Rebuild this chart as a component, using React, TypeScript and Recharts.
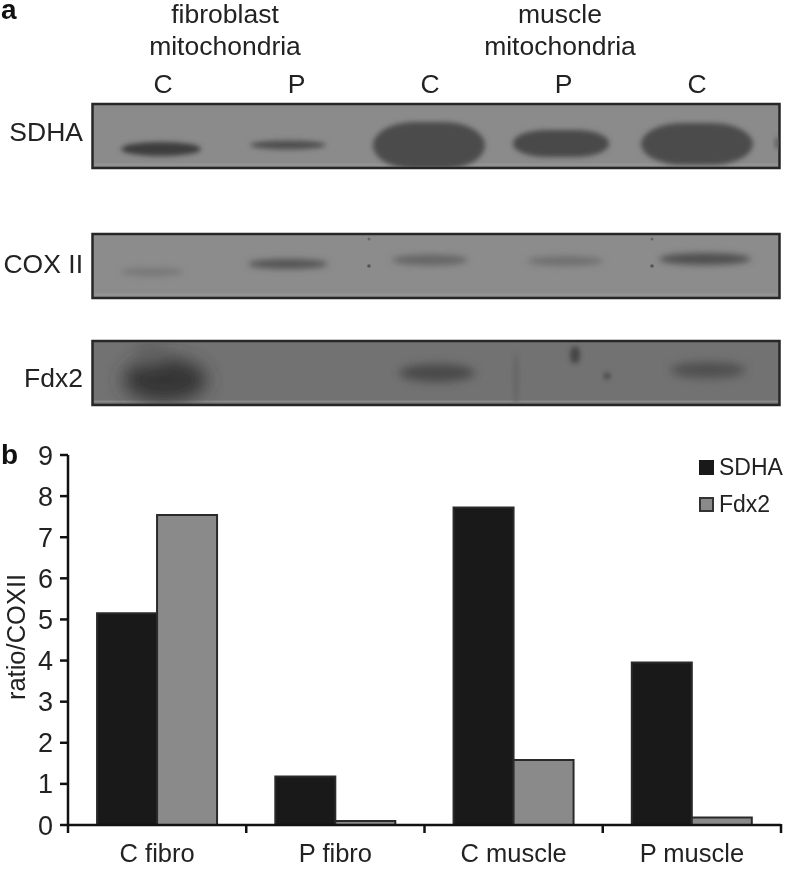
import React from "react";
import { BarChart, Bar, XAxis, YAxis, Legend } from "recharts";

const categories = ["C fibro", "P fibro", "C muscle", "P muscle"];
const sdha = [5.15, 1.18, 7.72, 3.95];
const fdx2 = [7.54, 0.1, 1.58, 0.18];
const yTicks = [0, 1, 2, 3, 4, 5, 6, 7, 8, 9];
const laneLabels = ["C", "P", "C", "P", "C"];
const rowLabels = ["SDHA", "COX II", "Fdx2"];

const data = categories.map((name, i) => ({ name, SDHA: sdha[i], Fdx2: fdx2[i] }));

const FONT = "'Liberation Sans', Arial, sans-serif";
const INK = "#222";
const W = 785;
const H = 869;
const PLOT_L = 68;
const PLOT_R = 781;
const CAT_W = (PLOT_R - PLOT_L) / categories.length;

const XTick = (props: any) => {
  const { x, y, payload, index } = props;
  const left = x - CAT_W / 2;
  const right = x + CAT_W / 2;
  return (
    <g>
      <line x1={left} x2={left} y1={y - 1} y2={y + 8} stroke="#111" strokeWidth={2.5} />
      {index === categories.length - 1 && (
        <line x1={right} x2={right} y1={y - 1} y2={y + 8} stroke="#111" strokeWidth={2.5} />
      )}
      <text x={x} y={y + 37} textAnchor="middle" fontFamily={FONT} fontSize={25.5} fill={INK}>
        {payload.value}
      </text>
    </g>
  );
};

const LegendBox = () => (
  <div style={{ fontFamily: FONT, fontSize: 23, color: INK, lineHeight: "37px" }}>
    <div style={{ display: "flex", alignItems: "center", height: 37 }}>
      <span style={{ display: "inline-block", width: 15, height: 15, background: "#191919", marginRight: 5 }} />
      SDHA
    </div>
    <div style={{ display: "flex", alignItems: "center", height: 37 }}>
      <span style={{ display: "inline-block", width: 11, height: 11, background: "#8a8a8a", border: "2px solid #333", marginRight: 5 }} />
      Fdx2
    </div>
  </div>
);

const Panel = ({ y, fill }: { y: number; fill: string }) => (
  <g>
    <rect x={92.5} y={y} width={687} height={64} fill={fill} stroke="#262626" strokeWidth={2.5} />
    <line x1={94} x2={778} y1={y + 60.5} y2={y + 60.5} stroke="#a0a0a0" strokeWidth={2} opacity={0.5} />
  </g>
);

const Blots = () => (
  <svg width={W} height={H} style={{ position: "absolute", left: 0, top: 0 }}>
    <defs>
      <filter id="b1" x="-50%" y="-100%" width="200%" height="300%"><feGaussianBlur stdDeviation="2.4" /></filter>
      <filter id="b2" x="-50%" y="-100%" width="200%" height="300%"><feGaussianBlur stdDeviation="3" /></filter>
      <filter id="b4" x="-50%" y="-100%" width="200%" height="300%"><feGaussianBlur stdDeviation="5" /></filter>
      <filter id="b8" x="-50%" y="-100%" width="200%" height="300%"><feGaussianBlur stdDeviation="9" /></filter>
      <clipPath id="clip1"><rect x={93} y={105} width={686} height={62} /></clipPath>
      <clipPath id="clip3"><rect x={93} y={342} width={686} height={62} /></clipPath>
    </defs>
    <Panel y={104} fill="#8b8b8b" />
    <Panel y={234} fill="#8c8c8c" />
    <Panel y={341} fill="#727272" />
    <g clipPath="url(#clip1)">
      <ellipse cx={161} cy={149} rx={40} ry={7} fill="#3c3c3c" filter="url(#b1)" />
      <ellipse cx={288} cy={145} rx={38} ry={4.5} fill="#505050" filter="url(#b1)" />
      <rect x={373} y={122} width={112} height={47} rx={42} ry={23} fill="#4c4c4c" filter="url(#b1)" />
      <rect x={513} y={130} width={96} height={27} rx={34} ry={13} fill="#484848" filter="url(#b1)" />
      <rect x={641} y={123} width={112} height={42} rx={42} ry={21} fill="#4b4b4b" filter="url(#b1)" />
      <ellipse cx={778} cy={143} rx={3} ry={6} fill="#5a5a5a" filter="url(#b1)" />
    </g>
    <g>
      <ellipse cx={152} cy={272} rx={32} ry={4} fill="#777" filter="url(#b2)" />
      <ellipse cx={288} cy={264} rx={40} ry={5} fill="#525252" filter="url(#b2)" />
      <ellipse cx={430} cy={260} rx={38} ry={5.5} fill="#666" filter="url(#b2)" />
      <ellipse cx={565} cy={261} rx={38} ry={5} fill="#707070" filter="url(#b2)" />
      <ellipse cx={705} cy={259} rx={46} ry={6} fill="#505050" filter="url(#b2)" />
      <circle cx={369} cy={239} r={1.5} fill="#666" />
      <circle cx={369} cy={266} r={1.8} fill="#555" />
      <circle cx={652} cy={239} r={1.5} fill="#666" />
      <circle cx={652} cy={266} r={1.8} fill="#555" />
    </g>
    <g clipPath="url(#clip3)">
      <ellipse cx={165} cy={380} rx={42} ry={22} fill="#353535" filter="url(#b8)" />
      <ellipse cx={150} cy={352} rx={14} ry={12} fill="#5e5e5e" filter="url(#b8)" />
      <ellipse cx={437} cy={373} rx={38} ry={9} fill="#484848" filter="url(#b4)" />
      <ellipse cx={708} cy={370} rx={38} ry={8} fill="#505050" filter="url(#b4)" />
      <ellipse cx={575} cy={355} rx={5} ry={9} fill="#444" filter="url(#b1)" />
      <circle cx={607} cy={376} r={3} fill="#3c3c3c" filter="url(#b1)" />
      <ellipse cx={516} cy={378} rx={3} ry={26} fill="#666" filter="url(#b1)" />
    </g>
    <g fontFamily={FONT} fill={INK} fontSize={26.5}>
      <text x={225} y={23} textAnchor="middle">fibroblast</text>
      <text x={225} y={55} textAnchor="middle">mitochondria</text>
      <text x={560} y={23} textAnchor="middle">muscle</text>
      <text x={560} y={55} textAnchor="middle">mitochondria</text>
      {laneLabels.map((label, i) => (
        <text key={i} x={163 + i * 133.5} y={93} textAnchor="middle">{label}</text>
      ))}
      <text x={83} y={141} textAnchor="end">{rowLabels[0]}</text>
      <text x={83} y={273} textAnchor="end">{rowLabels[1]}</text>
      <text x={83} y={387} textAnchor="end">{rowLabels[2]}</text>
    </g>
    <g fontFamily={FONT} fill="#111" fontSize={28} fontWeight="bold">
      <text x={1} y={19}>a</text>
      <text x={1} y={464}>b</text>
    </g>
  </svg>
);

export default function App() {
  return (
    <div style={{ position: "absolute", left: 0, top: 0, width: W, height: H, background: "#fff", filter: "blur(0.5px)", overflow: "hidden" }}>
      <Blots />
      <div style={{ position: "absolute", left: 0, top: 0 }}>
        <BarChart
          width={W}
          height={H}
          data={data}
          margin={{ top: 455, right: W - PLOT_R, bottom: 0, left: 0 }}
          barCategoryGap="16.3%"
          barGap={0}
        >
          <XAxis
            dataKey="name"
            height={44}
            interval={0}
            axisLine={{ stroke: "#111", strokeWidth: 2.5 }}
            tickLine={false}
            tickSize={0}
            tickMargin={0}
            tick={<XTick />}
          />
          <YAxis
            width={PLOT_L}
            domain={[0, 9]}
            ticks={yTicks}
            interval={0}
            axisLine={{ stroke: "#111", strokeWidth: 2.5 }}
            tickLine={{ stroke: "#111", strokeWidth: 2.5 }}
            tickSize={8}
            tickMargin={7}
            tick={{ fontFamily: FONT, fontSize: 27, fill: INK }}
            label={{
              value: "ratio/COXII",
              angle: -90,
              position: "insideLeft",
              offset: 16,
              dy: -3,
              style: { fontFamily: FONT, fontSize: 25.5, fill: INK, textAnchor: "middle" },
            }}
          />
          <Legend
            layout="vertical"
            align="center"
            verticalAlign="middle"
            content={<LegendBox />}
            wrapperStyle={{ position: "absolute", left: 699, top: 449, width: 86 }}
          />
          <Bar dataKey="SDHA" fill="#191919" stroke="#2a2a2a" strokeWidth={2} isAnimationActive={false} />
          <Bar dataKey="Fdx2" fill="#8a8a8a" stroke="#2a2a2a" strokeWidth={2} isAnimationActive={false} />
        </BarChart>
      </div>
    </div>
  );
}
